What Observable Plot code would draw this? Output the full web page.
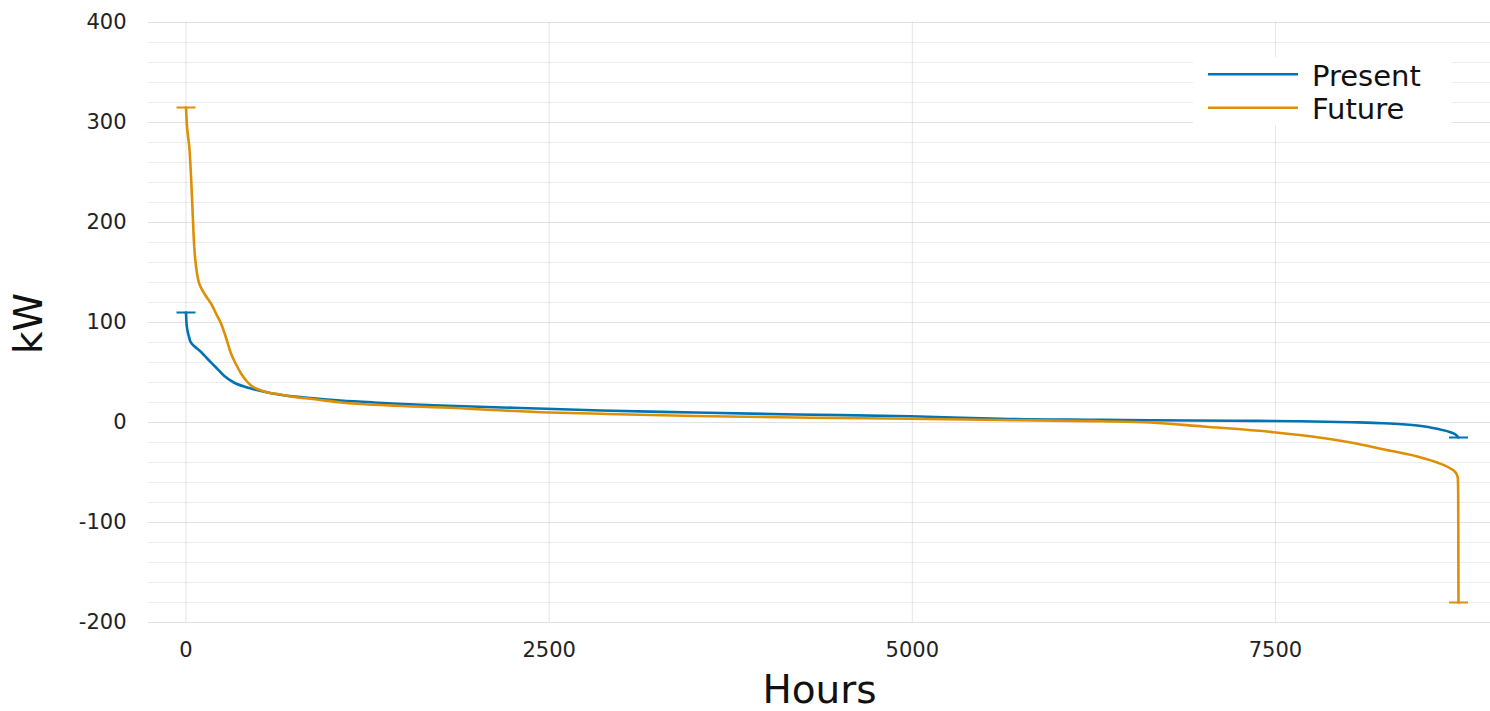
<!DOCTYPE html>
<html>
<head>
<meta charset="utf-8">
<script src="https://cdn.jsdelivr.net/npm/d3@7"></script>
<script src="https://cdn.jsdelivr.net/npm/@observablehq/plot@0.6"></script>
<style>
  html, body { margin: 0; padding: 0; background: #fff; }
  #wrap { position: relative; width: 1490px; height: 711px; font-family: "DejaVu Sans", sans-serif; }
  #legend { position: absolute; left: 1193px; top: 57px; width: 259px; height: 68px; background: #fff; }
</style>
</head>
<body>
<div id="wrap"></div>
<script>
// ---- Data ----
const seriesNames = ["Present", "Future"];
const seriesColors = ["#0173B2", "#DE8F05"];

const presentHours = [0, 3, 10, 20, 30, 60, 100, 146, 200, 260, 329, 421, 500, 604, 834, 1063, 1293, 1752, 2300, 2857, 3500, 4200, 4987, 5607, 6296, 6640, 7200, 7673, 8017, 8245, 8476, 8613, 8705, 8740, 8760];
const presentKW    = [110, 100, 92, 86, 81, 76, 71, 64, 56, 47, 40, 35, 32, 28.7, 24.7, 22, 20, 17, 14.5, 12, 10, 8, 6.3, 3.7, 2.7, 2.2, 1.8, 1.3, 0.3, -0.7, -3, -6.3, -9.7, -12, -15];

const futureHours = [0, 5, 15, 23, 35, 46, 57, 70, 85, 103, 130, 172, 210, 241, 275, 310, 345, 379, 420, 448, 500, 563, 650, 724, 900, 1068, 1400, 1758, 2500, 2854, 3500, 4300, 4987, 5607, 6300, 6640, 7000, 7487, 7800, 8017, 8250, 8476, 8613, 8705, 8740, 8755, 8758, 8760];
const futureKW    = [315, 300, 285, 275, 245, 209, 175, 155, 142, 135, 128, 119, 108, 99, 85, 69, 58, 49, 41, 37, 33, 30, 28, 26, 23, 20, 17, 15, 10, 8.7, 6.5, 4.8, 3.7, 2.5, 1.3, 0, -4, -9.7, -15, -20, -27, -34, -40, -46, -50, -55, -70, -180];

const xTicks = [0, 2500, 5000, 7500];
const yTicks = [-200, -100, 0, 100, 200, 300, 400];
const yMinorTicks = d3.range(-200, 401, 20);

// ---- Build tables ----
const present = presentHours.map((h, i) => ({hour: h, kw: presentKW[i], series: seriesNames[0]}));
const future = futureHours.map((h, i) => ({hour: h, kw: futureKW[i], series: seriesNames[1]}));
const caps = [
  present[0], present[present.length - 1],
  future[0], future[future.length - 1]
];

const capSymbol = { draw(ctx, size) { ctx.moveTo(-9.5, 0); ctx.lineTo(9.5, 0); } };

const font = "DejaVu Sans, sans-serif";
const plainFormat = d => String(d);

const chart = Plot.plot({
  width: 1490,
  height: 711,
  marginLeft: 148,
  marginRight: 0,
  marginTop: 22,
  marginBottom: 89,
  style: {fontFamily: font, background: "#fff", overflow: "visible"},
  x: {domain: [-258.2, 8980.4]},
  y: {domain: [-200, 400]},
  color: {domain: seriesNames, range: seriesColors},
  marks: [
    Plot.ruleY(yMinorTicks, {stroke: "#000", strokeOpacity: 0.07, strokeWidth: 1}),
    Plot.ruleY(yTicks, {stroke: "#000", strokeOpacity: 0.04, strokeWidth: 1}),
    Plot.ruleX(xTicks, {stroke: "#000", strokeOpacity: 0.1, strokeWidth: 1}),
    Plot.axisY(yTicks, {tickSize: 0, tickPadding: 22, fontSize: 21, fill: "#222", label: null, tickFormat: plainFormat}),
    Plot.axisX(xTicks, {tickSize: 0, tickPadding: 20, fontSize: 21, fill: "#222", label: null, tickFormat: plainFormat}),
    Plot.text(["kW"], {frameAnchor: "left", textAnchor: "middle", lineAnchor: "middle", rotate: -90, dx: -119, dy: 1, fontSize: 39, fill: "#111"}),
    Plot.text(["Hours"], {frameAnchor: "bottom", textAnchor: "middle", dy: 80, fontSize: 39, fill: "#111"}),
    Plot.line(present, {x: "hour", y: "kw", stroke: "series", strokeWidth: 2.6, curve: "monotone-x"}),
    Plot.line(future, {x: "hour", y: "kw", stroke: "series", strokeWidth: 2.6, curve: "monotone-x"}),
    Plot.dot(caps, {x: "hour", y: "kw", stroke: "series", symbol: capSymbol, r: 5, strokeWidth: 2})
  ]
});

const wrap = document.getElementById("wrap");
wrap.appendChild(chart);

// ---- Legend (inside the plot, top right) ----
const legend = document.createElement("div");
legend.id = "legend";
const ns = "http://www.w3.org/2000/svg";
const lsvg = document.createElementNS(ns, "svg");
lsvg.setAttribute("width", 259);
lsvg.setAttribute("height", 68);
const rowY = [17.3, 50.7];
const baseY = [29, 61.5];
seriesNames.forEach((name, i) => {
  const ln = document.createElementNS(ns, "line");
  ln.setAttribute("x1", 15); ln.setAttribute("x2", 105);
  ln.setAttribute("y1", rowY[i]); ln.setAttribute("y2", rowY[i]);
  ln.setAttribute("stroke", seriesColors[i]);
  ln.setAttribute("stroke-width", 2.6);
  lsvg.appendChild(ln);
  const tx = document.createElementNS(ns, "text");
  tx.setAttribute("x", 119);
  tx.setAttribute("y", baseY[i]);
  tx.setAttribute("font-family", font);
  tx.setAttribute("font-size", 29);
  tx.setAttribute("fill", "#111");
  tx.textContent = name;
  lsvg.appendChild(tx);
});
legend.appendChild(lsvg);
wrap.appendChild(legend);
</script>
</body>
</html>
